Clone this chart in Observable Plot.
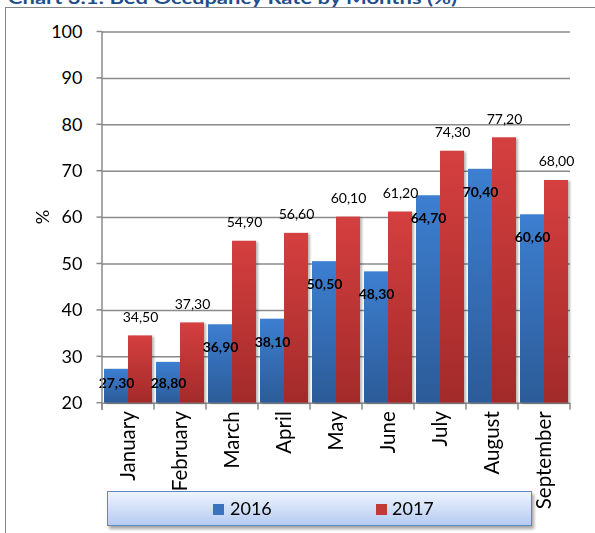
<!DOCTYPE html>
<html>
<head>
<meta charset="utf-8">
<script src="https://cdn.jsdelivr.net/npm/d3@7"></script>
<script src="https://cdn.jsdelivr.net/npm/@observablehq/plot@0.6"></script>
<style>
  body { margin: 0; background: #fff; }
  #wrap { position: relative; width: 595px; height: 533px; overflow: hidden; font-family: Lato, "Open Sans", sans-serif; }
  #frame { position: absolute; left: 5px; top: 7px; width: 700px; height: 700px; border-left: 1.6px solid #858585; border-top: 1.6px solid #858585; }
  #title { position: absolute; left: 0; top: 0; }
  #chart { position: absolute; left: 0; top: 0; }
  #legend { position: absolute; left: 107px; top: 491px; width: 423px; height: 33px;
    border: 1px solid #5b88c9; background: linear-gradient(#eef4fe, #b5cbf2);
    box-shadow: 2px 3px 3px rgba(0,0,0,0.35); }
  .sw { position: absolute; top: 12px; width: 11px; height: 11px; }
  .lt { position: absolute; top: 5px; font-size: 18px; line-height: 22px; color: #000; }
</style>
</head>
<body>
<div id="wrap">
  <div id="frame"></div>
  <svg id="title" width="595" height="12"><text x="8" y="4" font-family="Lato, sans-serif" font-weight="bold" font-size="17" fill="#1f4e8c" textLength="449" lengthAdjust="spacingAndGlyphs">Chart 3.1: Bed Occupancy Rate by Months (%)</text></svg>
  <div id="chart"></div>
  <div id="legend"></div>
</div>
<script>
// ---- data ----
const months = ["January", "February", "March", "April", "May", "June", "July", "August", "September"];
const years = ["2016", "2017"];
const v2016 = [27.3, 28.8, 36.9, 38.1, 50.5, 48.3, 64.7, 70.4, 60.6];
const v2017 = [34.5, 37.3, 54.9, 56.6, 60.1, 61.2, 74.3, 77.2, 68.0];
const yTicks = [20, 30, 40, 50, 60, 70, 80, 90, 100];
const yLabel = "%";
const titleText = "Chart 3.1: Bed Occupancy Rate by Months (%)";

const yBase = 20;
const labelFloor = 29.2;
const fmt = v => v.toFixed(2).replace(".", ",");

const rows = months.flatMap((m, i) => [
  {month: m, year: years[0], value: v2016[i]},
  {month: m, year: years[1], value: v2017[i]}
]);
const rows2016 = rows.filter(d => d.year === years[0]);
const rows2017 = rows.filter(d => d.year === years[1]);

const plot = Plot.plot({
  width: 595,
  height: 533,
  marginLeft: 101,
  marginRight: 24,
  marginTop: 31.5,
  marginBottom: 130.3,
  style: {fontFamily: "Lato, sans-serif", background: "transparent", overflow: "visible"},
  fx: {domain: months, padding: 0, label: null},
  x: {domain: years, paddingInner: 0, paddingOuter: 0.06, axis: null},
  y: {domain: [yTicks[0], yTicks[yTicks.length - 1]], label: null, axis: null},
  color: {domain: years, range: ["url(#g2016)", "url(#g2017)"]},
  marks: [
    Plot.gridY(yTicks, {stroke: "#8a8a8a", strokeOpacity: 1, strokeWidth: 1.5}),
    Plot.barY(rows, {fx: "month", x: "year", y1: yBase, y2: "value", fill: "year"}),
    Plot.text(rows2016, {fx: "month", x: "year", y: d => Math.max(d.value, labelFloor), text: d => fmt(d.value),
      dy: 23, fontWeight: "bold", fontSize: 14, fill: "#000"}),
    Plot.text(rows2017, {fx: "month", x: "year", y: "value", text: d => fmt(d.value),
      dy: -18.5, fontSize: 14, fill: "#000"}),
    Plot.axisY(yTicks, {tickSize: 0, tickPadding: 20, fontSize: 18, label: null, fill: "#000"}),
    Plot.axisFx({anchor: "bottom", tickRotate: -90, tickSize: 0, tickPadding: 8, fontSize: 20.5, label: null, fill: "#000"})
  ]
});

document.getElementById("chart").appendChild(plot);

// gradients for bars
const svg = d3.select(plot);
const defs = svg.insert("defs", ":first-child");
function grad(id, top, bottom) {
  const g = defs.append("linearGradient").attr("id", id).attr("x1", 0).attr("y1", 0).attr("x2", 0).attr("y2", 1);
  g.append("stop").attr("offset", "0%").attr("stop-color", top);
  g.append("stop").attr("offset", "100%").attr("stop-color", bottom);
}
grad("g2016", "#3d7fd1", "#2c5b98");
grad("g2017", "#d53f3f", "#a32a2a");
svg.selectAll("g[aria-label='bar']").style("filter", "drop-shadow(2px 1px 1.2px rgba(0,0,0,0.28))");

// axis line and tick marks from the plot's scales
const fx = plot.scale("fx");
const y = plot.scale("y");
const x0 = fx.apply(months[0]);
const bounds = months.map(m => fx.apply(m)).concat([fx.apply(months[months.length - 1]) + fx.bandwidth]);
const yBottom = y.apply(yTicks[0]);
const ax = svg.append("g").attr("stroke", "#8a8a8a").attr("stroke-width", 1.5);
ax.append("line").attr("x1", x0).attr("x2", x0).attr("y1", y.apply(yTicks[yTicks.length - 1])).attr("y2", yBottom + 7);
yTicks.forEach(t => ax.append("line").attr("x1", x0 - 5.5).attr("x2", x0).attr("y1", y.apply(t)).attr("y2", y.apply(t)));
bounds.forEach(b => ax.append("line").attr("x1", b).attr("x2", b).attr("y1", yBottom).attr("y2", yBottom + 7));

// y label
const yMid = (y.apply(yTicks[0]) + y.apply(yTicks[yTicks.length - 1])) / 2;
svg.append("text").attr("transform", `translate(${x0 - 59},${yMid}) rotate(-90)`)
  .attr("text-anchor", "middle").attr("dy", "0.35em").attr("font-size", 18).attr("fill", "#000").text(yLabel);

// legend
const legend = d3.select("#legend");
const legendPos = [{sw: 105, tx: 122}, {sw: 268, tx: 284}];
const swColors = ["#3a72bd", "#c3393a"];
years.forEach((yr, i) => {
  legend.append("div").attr("class", "sw").style("left", legendPos[i].sw + "px").style("background", swColors[i]);
  legend.append("div").attr("class", "lt").style("left", legendPos[i].tx + "px").text(yr);
});
</script>
</body>
</html>
